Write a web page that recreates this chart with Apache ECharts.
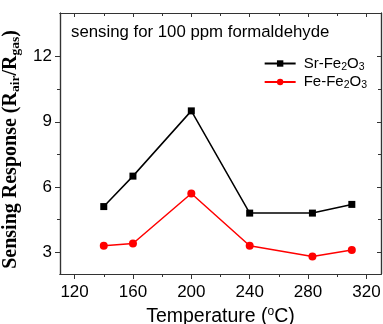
<!DOCTYPE html>
<html>
<head>
<meta charset="utf-8">
<script src="https://cdn.jsdelivr.net/npm/echarts@6/dist/echarts.min.js"></script>
<style>
  html, body { margin: 0; padding: 0; background: #fff; }
  #chart { width: 383px; height: 324px; }
</style>
</head>
<body>
<div id="chart"></div>
<script>
const temperatures = [140, 160, 200, 240, 283, 310];
const srFe2O3 = [5.1, 6.5, 9.5, 4.8, 4.8, 5.2];
const feFe2O3 = [3.3, 3.4, 5.7, 3.3, 2.8, 3.1];
const xMajorTicks = [120, 160, 200, 240, 280, 320];
const xMinorTicks = [140, 180, 220, 260, 300];
const yMajorTicks = [3, 6, 9, 12];
const yMinorTicks = [4.5, 7.5, 10.5];

const chart = echarts.init(document.getElementById('chart'));

const pairs = (vals) => temperatures.map((t, i) => [t, vals[i]]);
const sub = { fontSize: 10.5, verticalAlign: 'bottom', padding: [7, 0, 0, 0], fontFamily: 'Liberation Sans', color: '#000' };

// frame axes: bottom/left carry labels, top/right only inner ticks
function xAx(pos, ticks, len, inside, withLabels) {
  return {
    type: 'value', position: pos, min: 110, max: 330,
    axisLine: { show: true, onZero: false, lineStyle: { color: '#333', width: 1.2 } },
    axisTick: { show: true, inside, length: len, customValues: ticks, lineStyle: { color: '#333' } },
    axisLabel: withLabels
      ? { show: true, customValues: ticks, margin: 10, fontSize: 17, color: '#000', fontFamily: 'Liberation Sans' }
      : { show: false },
    splitLine: { show: false }
  };
}
function yAx(pos, ticks, len, inside, withLabels) {
  return {
    type: 'value', position: pos, min: 2, max: 14,
    axisLine: { show: true, onZero: false, lineStyle: { color: '#333', width: 1.2 } },
    axisTick: { show: true, inside, length: len, customValues: ticks, lineStyle: { color: '#333' } },
    axisLabel: withLabels
      ? { show: true, customValues: ticks, margin: 8, fontSize: 17, color: '#000', fontFamily: 'Liberation Sans' }
      : { show: false },
    splitLine: { show: false }
  };
}

const xMain = xAx('bottom', xMajorTicks, 5, false, true);
xMain.name = 'Temperature ({sup|o}C)';
xMain.nameLocation = 'middle';
xMain.nameGap = 30;
xMain.nameTextStyle = {
  fontSize: 19.5, color: '#000', fontFamily: 'Liberation Sans', verticalAlign: 'top',
  rich: { sup: { fontSize: 12, verticalAlign: 'top', padding: [0, 0, 9, 0], fontFamily: 'Liberation Sans', color: '#000' } }
};

const yMain = yAx('left', yMajorTicks, 5, false, true);
yMain.name = 'Sensing Response (R{s|air}/R{s|gas})';
yMain.nameLocation = 'middle';
yMain.nameGap = 31;
yMain.nameTextStyle = {
  fontSize: 20, fontWeight: 'bold', color: '#000', fontFamily: 'Liberation Serif',
  padding: [0, 12, 0, 0],
  rich: { s: { fontSize: 13.5, fontWeight: 'bold', fontFamily: 'Liberation Serif', color: '#000', verticalAlign: 'bottom', padding: [9, 0, 0, 0] } }
};

chart.setOption({
  animation: false,
  grid: { left: 60, right: 2, top: 13, bottom: 50, outerBoundsMode: 'none', containLabel: false },
  xAxis: [
    xMain,
    xAx('bottom', xMinorTicks, 3, false, false),
    xAx('top', xMajorTicks, 4, true, false),
    xAx('top', xMinorTicks, 3, true, false)
  ],
  yAxis: [
    yMain,
    yAx('left', yMinorTicks, 3, false, false),
    yAx('right', yMajorTicks, 4, true, false),
    yAx('right', yMinorTicks, 3, true, false)
  ],
  legend: {
    orient: 'vertical', right: 11, top: 51, itemWidth: 31, itemHeight: 8, itemGap: 2,
    data: ['Sr-Fe2O3', 'Fe-Fe2O3'],
    formatter: (n) => n.replace('Fe2O3', 'Fe{sub|2}O{sub|3}'),
    textStyle: { fontSize: 15, color: '#000', fontFamily: 'Liberation Sans', padding: [0, 0, 0, 3], rich: { sub } }
  },
  graphic: [{
    type: 'text', left: 71, top: 24,
    style: { text: 'sensing for 100 ppm formaldehyde', font: '16.8px "Liberation Sans"', fill: '#000' }
  }],
  series: [
    {
      name: 'Sr-Fe2O3', type: 'line', data: pairs(srFe2O3),
      symbol: 'rect', symbolSize: 7, color: '#000',
      lineStyle: { width: 1.5, color: '#000' }, itemStyle: { color: '#000' }
    },
    {
      name: 'Fe-Fe2O3', type: 'line', data: pairs(feFe2O3),
      symbol: 'circle', symbolSize: 8, color: '#f00',
      lineStyle: { width: 1.5, color: '#f00' }, itemStyle: { color: '#f00' }
    }
  ]
});
</script>
</body>
</html>
